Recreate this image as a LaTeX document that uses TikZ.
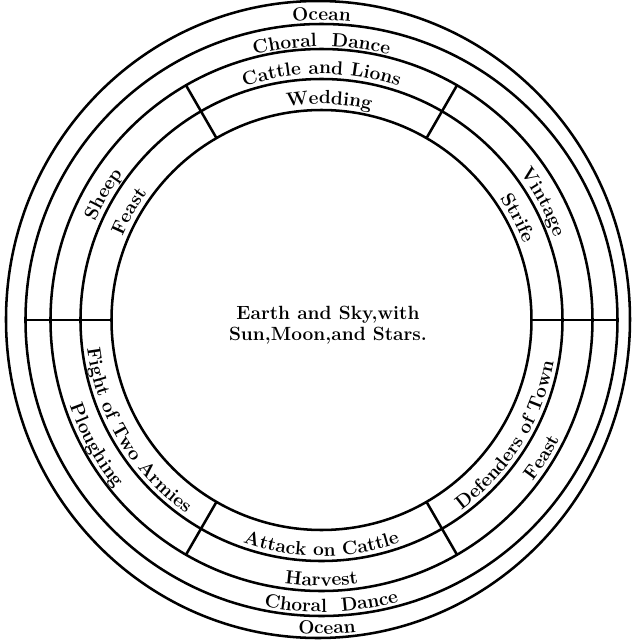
\documentclass[tikz,border=0pt]{standalone}
\usetikzlibrary{decorations.text}

\newcommand\bandfont{\fontsize{13.6}{15}\selectfont\bfseries}

\begin{document}
\begin{tikzpicture}[
    x=0.025cm, y=0.025cm,
    ring/.style={line width=1.8pt},
    divider/.style={line width=1.8pt},
    arctext/.style={decorate, decoration={text along path,
                    text align=center, text={|\bandfont|#1}}},
    centre/.style={font=\bfseries\fontsize{13.6}{14.6}\selectfont, align=center},
]
\useasboundingbox (-321.5,-321) rectangle (311.5,320);

% --- Rings ---
\draw[ring] (0,0) circle[radius=210];
\draw[ring] (0,0) circle[radius=241];
\draw[ring] (0,0) circle[radius=271];
\draw[ring] (0,0) circle[radius=296];
\draw[ring] (-3.5,0.5) ellipse[x radius=312, y radius=318.5];

% --- Dividers ---
\draw[divider] (0:210) -- (0:296);
\draw[divider] (180:210) -- (180:296);
\draw[divider] (60:210) -- (60:271);
\draw[divider] (120:210) -- (120:271);
\draw[divider] (240:210) -- (240:271);
\draw[divider] (300:210) -- (300:271);

% --- Centre ---
\node[centre] (earth) at (6.5,-5) {Earth and Sky,with\\Sun,Moon,and Stars.};

% ============================================================
% Upper half: letters face outward, read clockwise
% ============================================================
\path[arctext=Wedding] (118:216) arc[start angle=118, end angle=58, radius=216];
\path[arctext=Cattle and Lions] (125:246) arc[start angle=125, end angle=55, radius=246];
\path[arctext=Choral ~Dance] (125:273.5) arc[start angle=125, end angle=55, radius=273.5];
\path[arctext=Ocean] (120:299.5) arc[start angle=120, end angle=60, radius=299.5];

\path[arctext=Sheep] (180:247) arc[start angle=180, end angle=120, radius=247];
\path[arctext=Feast] (180.5:216) arc[start angle=180.5, end angle=120.5, radius=216];

\path[arctext=Vintage] (58:247) arc[start angle=58, end angle=-2, radius=247];
\path[arctext=Strife] (57.5:216) arc[start angle=57.5, end angle=-2.5, radius=216];

% ============================================================
% Lower half: letters face inward, read anticlockwise
% ============================================================
\path[arctext=Attack on Cattle] (235:236) arc[start angle=235, end angle=305, radius=236];
\path[arctext=Harvest] (240:266) arc[start angle=240, end angle=300, radius=266];
\path[arctext=Choral ~Dance] (237:292) arc[start angle=237, end angle=307, radius=292];
\path[arctext=Ocean] (241:314) arc[start angle=241, end angle=301, radius=314];

\path[arctext=Fight of Two Armies] (176:236) arc[start angle=176, end angle=246, radius=236];
\path[arctext=Ploughing] (179:266) arc[start angle=179, end angle=239, radius=266];

\path[arctext=Defenders of Town] (293:236) arc[start angle=293, end angle=363, radius=236];
\path[arctext=Feast] (298:266) arc[start angle=298, end angle=358, radius=266];

\end{tikzpicture}
\end{document}
